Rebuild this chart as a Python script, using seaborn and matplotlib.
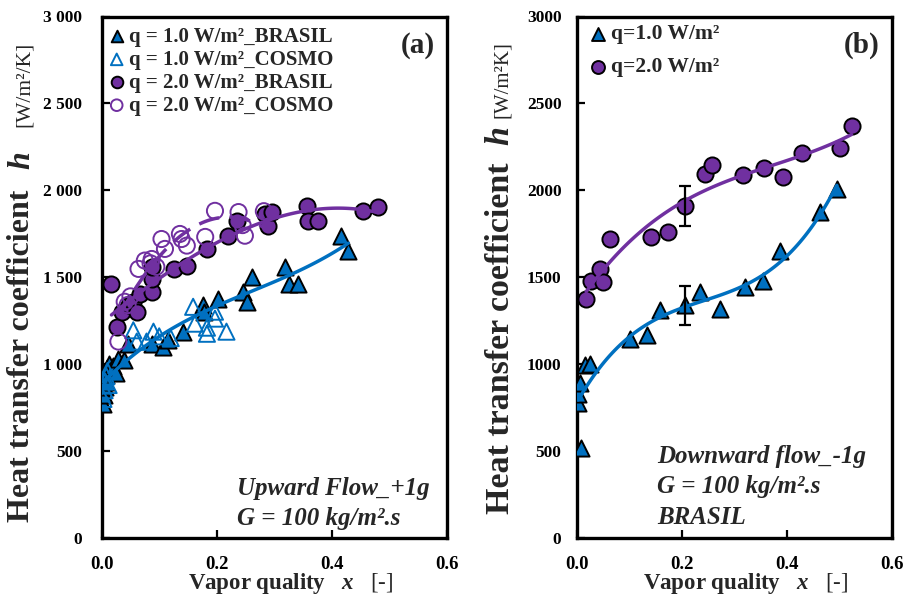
import numpy as np
import pandas as pd
import matplotlib
matplotlib.use("Agg")
import matplotlib.pyplot as plt
from matplotlib.ticker import FuncFormatter
import seaborn as sns

# ---------------- data ----------------
# Panel (a): upward flow +1g
a_q1_brasil_x = [0.003, 0.004, 0.005, 0.007, 0.008, 0.010, 0.012, 0.015, 0.020, 0.025, 0.029, 0.038,
                 0.046, 0.087, 0.107, 0.116, 0.142, 0.177, 0.178, 0.203, 0.246, 0.252, 0.261, 0.319,
                 0.325, 0.342, 0.417, 0.429]
a_q1_brasil_h = [770, 820, 870, 900, 940, 980, 1003, 960, 990, 950, 1030, 1022,
                 1118, 1118, 1100, 1137, 1187, 1338, 1300, 1376, 1416, 1359, 1502, 1560,
                 1462, 1462, 1739, 1653]

a_q1_cosmo_x = [0.003, 0.005, 0.006, 0.008, 0.010, 0.012, 0.055, 0.061, 0.078, 0.090, 0.100, 0.120,
                0.159, 0.162, 0.183, 0.183, 0.197, 0.197, 0.217]
a_q1_cosmo_h = [800, 850, 900, 930, 960, 880, 1195, 1130, 1130, 1187, 1160, 1150,
                1330, 1233, 1175, 1210, 1302, 1262, 1187]

a_q2_brasil_x = [0.017, 0.026, 0.035, 0.048, 0.055, 0.061, 0.066, 0.087, 0.087, 0.087, 0.125, 0.148,
                 0.183, 0.220, 0.235, 0.284, 0.290, 0.296, 0.357, 0.359, 0.377, 0.455, 0.481]
a_q2_brasil_h = [1462, 1215, 1300, 1340, 1359, 1302, 1405, 1416, 1491, 1560, 1548, 1565,
                 1663, 1739, 1825, 1863, 1796, 1875, 1911, 1825, 1825, 1882, 1904]

a_q2_cosmo_x = [0.029, 0.040, 0.045, 0.050, 0.064, 0.075, 0.085, 0.087, 0.095, 0.104, 0.110, 0.136,
                0.139, 0.148, 0.180, 0.197, 0.238, 0.245, 0.249, 0.282]
a_q2_cosmo_h = [1130, 1359, 1340, 1390, 1548, 1596, 1580, 1605, 1560, 1720, 1663, 1749,
                1720, 1682, 1732, 1882, 1875, 1800, 1739, 1880]

# Panel (b): downward flow -1g
b_q1_x = [0.009, 0.003, 0.003, 0.006, 0.015, 0.025, 0.101, 0.133, 0.158, 0.206, 0.234, 0.272,
          0.320, 0.355, 0.387, 0.463, 0.495]
b_q1_h = [516, 774, 831, 889, 994, 1003, 1147, 1166, 1309, 1338, 1418, 1319,
          1443, 1481, 1653, 1873, 2007]

b_q2_x = [0.018, 0.028, 0.044, 0.050, 0.063, 0.142, 0.174, 0.206, 0.244, 0.257, 0.317, 0.356,
          0.393, 0.428, 0.501, 0.523]
b_q2_h = [1376, 1481, 1548, 1472, 1720, 1730, 1762, 1911, 2093, 2144, 2087, 2131,
          2074, 2217, 2246, 2370]

b_err_x = [0.206, 0.206]
b_err_h = [1911, 1338]
b_err = [115, 110]

x_ticks = [0.0, 0.2, 0.4, 0.6]
y_ticks = [0, 500, 1000, 1500, 2000, 2500, 3000]

legend_a = ["q = 1.0 W/m\u00b2_BRASIL", "q = 1.0 W/m\u00b2_COSMO",
            "q = 2.0 W/m\u00b2_BRASIL", "q = 2.0 W/m\u00b2_COSMO"]
legend_b = ["q=1.0 W/m\u00b2", "q=2.0 W/m\u00b2"]

# ---------------- style ----------------
sns.set_theme(style="white")
SERIF = "Liberation Serif"
plt.rcParams["font.family"] = [SERIF, "DejaVu Serif"]
plt.rcParams["mathtext.fontset"] = "custom"
plt.rcParams["mathtext.rm"] = SERIF
plt.rcParams["mathtext.bf"] = SERIF + ":bold"
plt.rcParams["mathtext.it"] = SERIF + ":italic"
plt.rcParams["mathtext.bfit"] = SERIF + ":italic:bold"

BLUE = "#0070C0"
PURPLE = "#7030A0"

fig = plt.figure(figsize=(9.07, 6.0), dpi=100)
W, H = 907, 600


def add_ax(l, r, t, b):
    return fig.add_axes([l / W, 1 - b / H, (r - l) / W, (b - t) / H])


axA = add_ax(101.7, 446.7, 16.5, 538)
axB = add_ax(576.7, 892, 16.5, 538)

MS = 135
LW_EDGE = 1.4

# ---- panel (a) ----
sns.scatterplot(x=a_q1_brasil_x, y=a_q1_brasil_h, marker="^", s=MS, color=BLUE,
                edgecolor="black", linewidth=LW_EDGE, ax=axA, label=legend_a[0], zorder=3)
sns.scatterplot(x=a_q1_cosmo_x, y=a_q1_cosmo_h, marker="^", s=MS, facecolor="none",
                edgecolor=BLUE, linewidth=LW_EDGE, ax=axA, label=legend_a[1], zorder=3)
sns.scatterplot(x=a_q2_brasil_x, y=a_q2_brasil_h, marker="o", s=MS, color=PURPLE,
                edgecolor="black", linewidth=LW_EDGE, ax=axA, label=legend_a[2], zorder=3)
sns.scatterplot(x=a_q2_cosmo_x, y=a_q2_cosmo_h, marker="o", s=MS, facecolor="none",
                edgecolor=PURPLE, linewidth=LW_EDGE, ax=axA, label=legend_a[3], zorder=3)

sns.regplot(x=a_q1_brasil_x, y=a_q1_brasil_h, order=3, scatter=False, ci=None, truncate=True,
            line_kws=dict(color=BLUE, lw=2.5, zorder=4), ax=axA)
sns.regplot(x=a_q2_brasil_x, y=a_q2_brasil_h, order=3, scatter=False, ci=None, truncate=True,
            line_kws=dict(color=PURPLE, lw=2.5, zorder=4), ax=axA)
sns.regplot(x=a_q2_cosmo_x, y=a_q2_cosmo_h, order=2, scatter=False, ci=None, truncate=True,
            line_kws=dict(color=PURPLE, lw=2.5, ls=(0, (6, 3)), zorder=4), ax=axA)

# ---- panel (b) ----
sns.scatterplot(x=b_q1_x, y=b_q1_h, marker="^", s=MS, color=BLUE,
                edgecolor="black", linewidth=LW_EDGE, ax=axB, label=legend_b[0], zorder=3)
sns.scatterplot(x=b_q2_x, y=b_q2_h, marker="o", s=MS, color=PURPLE,
                edgecolor="black", linewidth=LW_EDGE, ax=axB, label=legend_b[1], zorder=3)
sns.regplot(x=b_q1_x, y=b_q1_h, order=3, scatter=False, ci=None, truncate=True,
            line_kws=dict(color=BLUE, lw=2.5, zorder=4), ax=axB)
sns.regplot(x=b_q2_x, y=b_q2_h, order=3, scatter=False, ci=None, truncate=True,
            line_kws=dict(color=PURPLE, lw=2.5, zorder=4), ax=axB)
axB.errorbar(b_err_x, b_err_h, yerr=b_err, fmt="none", ecolor="black", elinewidth=1.6,
             capsize=4, capthick=1.6, zorder=5)

# ---- axes formatting ----
for ax, ypad, fmt in ((axA, 14, lambda v, p: f"{int(v):,}".replace(",", " ")),
                      (axB, 11, lambda v, p: f"{int(v)}")):
    ax.set_xlim(0, 0.6)
    ax.set_ylim(0, 3000)
    ax.set_xticks(x_ticks)
    ax.set_yticks(y_ticks)
    ax.xaxis.set_major_formatter(FuncFormatter(lambda v, p: f"{v:.1f}"))
    ax.yaxis.set_major_formatter(FuncFormatter(fmt))
    ax.tick_params(axis="both", direction="in", length=6, width=1.6, colors="black",
                   bottom=True, left=True)
    ax.tick_params(axis="y", pad=ypad, labelsize=12.5)
    ax.tick_params(axis="x", pad=13, labelsize=13.5)
    for lab in ax.get_xticklabels() + ax.get_yticklabels():
        lab.set_fontweight("bold")
        lab.set_family(SERIF)
    for sp in ax.spines.values():
        sp.set_visible(True)
        sp.set_color("black")
        sp.set_linewidth(2.4)
    ax.set_xlabel("")
    ax.set_ylabel("")
    ax.grid(False)

# legends
legA = axA.legend(loc="upper left", bbox_to_anchor=(-0.035, 1.008), frameon=False,
                  prop=dict(family=SERIF, weight="bold", size=15), handletextpad=0.0,
                  labelspacing=0.14, borderaxespad=0.3, handlelength=1.2, markerscale=0.72)
legB = axB.legend(loc="upper left", bbox_to_anchor=(-0.02, 1.014), frameon=False,
                  prop=dict(family=SERIF, weight="bold", size=15.5), handletextpad=0.0,
                  labelspacing=0.6, borderaxespad=0.3, handlelength=1.2, markerscale=0.8)

# panel tags
axA.text(0.915, 0.945, "(a)", transform=axA.transAxes, ha="center", va="center",
         fontsize=21, fontweight="bold", family=SERIF)
axB.text(0.905, 0.945, "(b)", transform=axB.transAxes, ha="center", va="center",
         fontsize=21, fontweight="bold", family=SERIF)

# annotations
for y_px, s in ((488, "Upward Flow_+1g"), (518, "G = 100 kg/m\u00b2.s")):
    fig.text(237 / W, 1 - y_px / H, s, ha="left", va="center", fontsize=18,
             fontweight="bold", fontstyle="italic", family=SERIF)
for y_px, s in ((456, "Downward flow_-1g"), (486, "G = 100 kg/m\u00b2.s"), (517, "BRASIL")):
    fig.text(657 / W, 1 - y_px / H, s, ha="left", va="center", fontsize=18,
             fontweight="bold", fontstyle="italic", family=SERIF)

# x labels
for ax, cx in ((axA, 291), (axB, 746)):
    fig.text(cx / W, 1 - 584 / H,
             r"$\mathbf{Vapor\ quality}$   $\mathbfit{x}$   [-]",
             ha="center", va="center", fontsize=16.5, family=SERIF)

# y labels (pieces rotated)
def ylabel_pieces(xc, y_main, size_main, y_h, y_unit, unit, size_unit):
    fig.text(xc / W, 1 - y_main / H, "Heat transfer coefficient", rotation=90,
             ha="center", va="center", fontsize=size_main, fontweight="bold", family=SERIF)
    fig.text(xc / W, 1 - y_h / H, "h", rotation=90, ha="center", va="center",
             fontsize=size_main, fontweight="bold", fontstyle="italic", family=SERIF)
    fig.text((xc + 2) / W, 1 - y_unit / H, unit, rotation=90, ha="center", va="center",
             fontsize=size_unit, family=SERIF)

ylabel_pieces(22, 356, 23, 160, 84, "[W/m\u00b2/K]", 15.5)
ylabel_pieces(500, 338, 24.5, 136, 80, "[W/m\u00b2K]", 15)

fig.savefig("out.png", dpi=100)
